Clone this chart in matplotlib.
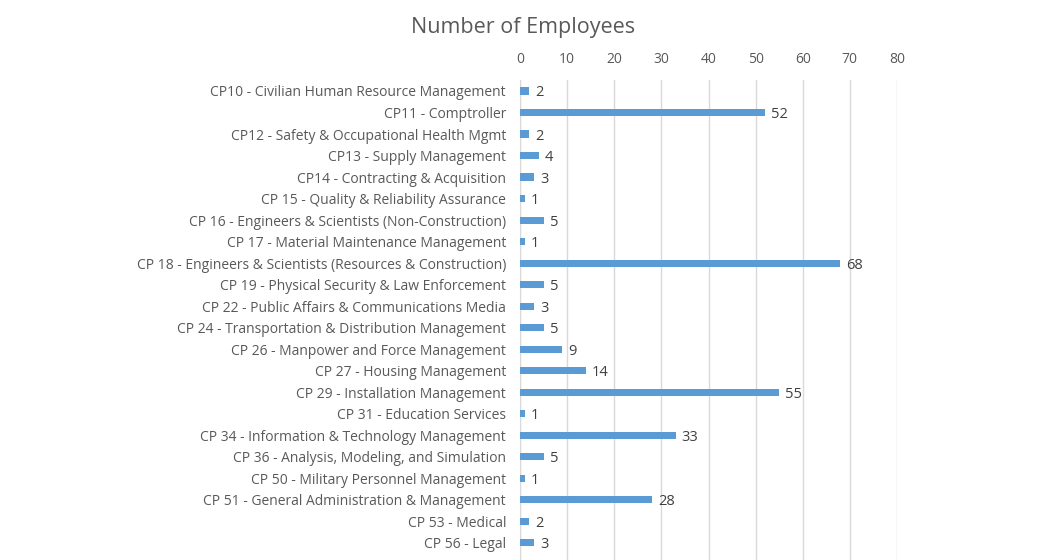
import matplotlib
matplotlib.use("Agg")
import matplotlib.pyplot as plt

categories = [
    "CP10 - Civilian Human Resource Management",
    "CP11 - Comptroller",
    "CP12 - Safety & Occupational Health Mgmt",
    "CP13 - Supply Management",
    "CP14 - Contracting & Acquisition",
    "CP 15 - Quality & Reliability Assurance",
    "CP 16 - Engineers & Scientists (Non-Construction)",
    "CP 17 - Material Maintenance Management",
    "CP 18 - Engineers & Scientists (Resources & Construction)",
    "CP 19 - Physical Security & Law Enforcement",
    "CP 22 - Public Affairs & Communications Media",
    "CP 24 - Transportation & Distribution Management",
    "CP 26 - Manpower and Force Management",
    "CP 27 - Housing Management",
    "CP 29 - Installation Management",
    "CP 31 - Education Services",
    "CP 34 - Information & Technology Management",
    "CP 36 - Analysis, Modeling, and Simulation",
    "CP 50 - Military Personnel Management",
    "CP 51 - General Administration & Management",
    "CP 53 - Medical",
    "CP 56 - Legal",
]
employees = [2, 52, 2, 4, 3, 1, 5, 1, 68, 5, 3, 5, 9, 14, 55, 1, 33, 5, 1, 28, 2, 3]
x_ticks = [0, 10, 20, 30, 40, 50, 60, 70, 80]

text_color = "#595959"
plt.rcParams["font.family"] = ["Open Sans", "DejaVu Sans"]

fig = plt.figure(figsize=(10.44, 5.6), dpi=100)
ax = fig.add_axes([520 / 1044, 0.0, (897 - 520) / 1044, 1 - 80 / 560])

y = list(range(len(categories)))
ax.barh(y, employees, height=0.33, color="#5B9BD5", zorder=3)
for yi, v in zip(y, employees):
    ax.text(v + 1.3, yi, str(v), va="center_baseline", ha="left", fontsize=10.5, color="#404040")

ax.set_xlim(0, 80)
ax.set_ylim(21.8, -0.51)
ax.set_xticks(x_ticks)
ax.xaxis.tick_top()
ax.set_yticks(y)
ax.set_yticklabels(categories)
ax.tick_params(axis="x", length=0, pad=9, labelsize=10, labelcolor=text_color)
ax.tick_params(axis="y", length=0, pad=10, labelsize=10, labelcolor=text_color)
for lbl in ax.get_yticklabels():
    lbl.set_verticalalignment("center_baseline")
ax.grid(axis="x", color="#D9D9D9", linewidth=1, zorder=0)
for s in ["top", "right", "bottom"]:
    ax.spines[s].set_visible(False)
ax.spines["left"].set_color("#D9D9D9")

fig.text(523 / 1044, 1 - 25 / 560, "Number of Employees", ha="center", va="center_baseline",
         fontsize=15.5, color=text_color)

fig.savefig("out.png", dpi=100)
